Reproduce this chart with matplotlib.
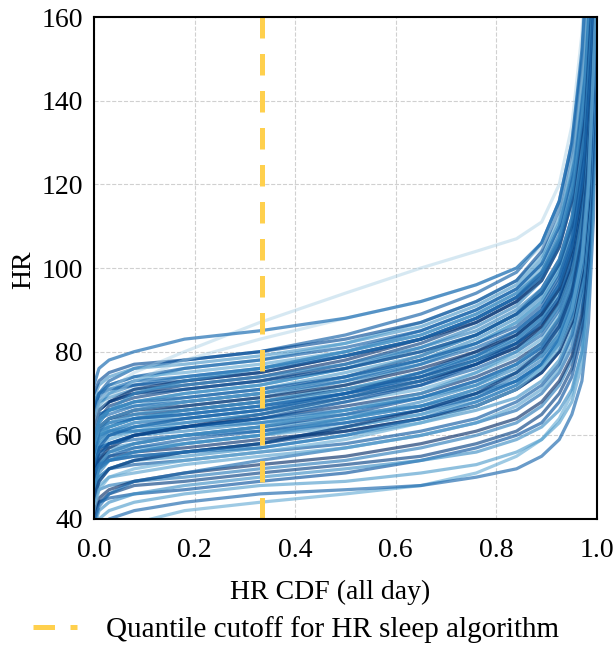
import numpy as np
import matplotlib.pyplot as plt
from matplotlib import cm

plt.rcParams['font.family'] = ['Liberation Serif', 'DejaVu Serif']

cdf_levels = [0, 0.01, 0.03, 0.08, 0.18, 0.33, 0.5, 0.65, 0.76, 0.84, 0.89,
              0.925, 0.95, 0.97, 0.983, 0.993, 1.0]

# low-HR subjects
hr_low = [
    [30, 33, 36, 39, 42, 44, 46, 48, 51, 55, 59, 64, 70, 80, 95, 120, 170],
    [36, 38, 40, 42, 44, 46, 47, 48, 50, 52, 55, 59, 65, 73, 87, 112, 165],
    [37, 40, 42, 44, 46, 48, 49, 51, 53, 56, 59, 63, 68, 77, 92, 118, 168],
    [42, 44, 45, 46, 47, 49, 51, 54, 57, 60, 63, 68, 74, 84, 100, 126, 170],
    [38, 42, 44, 46, 48, 50, 52, 54, 56, 59, 62, 66, 71, 80, 95, 122, 172],
    [40, 44, 46, 48, 49, 51, 53, 55, 58, 61, 65, 70, 76, 86, 102, 130, 175],
    [44, 47, 48, 49, 50, 52, 54, 57, 60, 63, 67, 72, 78, 88, 104, 132, 178],
    [41, 45, 47, 49, 51, 53, 55, 58, 61, 64, 68, 73, 79, 89, 106, 134, 176],
    [39, 43, 46, 49, 51, 54, 57, 60, 63, 66, 70, 75, 81, 92, 108, 136, 180],
    [45, 48, 50, 51, 53, 55, 57, 60, 63, 67, 71, 76, 83, 94, 110, 138, 178],
    [47, 50, 52, 53, 54, 56, 58, 61, 64, 68, 72, 77, 84, 95, 112, 140, 182],
]

# the dense middle of the band
hr_mid = [
    [46, 50, 52, 54, 55, 57, 60, 63, 66, 69, 73, 78, 85, 96, 113, 142, 180],
    [49, 52, 54, 55, 56, 58, 61, 64, 67, 71, 75, 80, 87, 98, 115, 144, 184],
    [44, 49, 52, 54, 56, 58, 62, 65, 69, 73, 77, 83, 90, 102, 120, 148, 186],
    [50, 53, 55, 56, 57, 59, 61, 64, 67, 71, 75, 80, 87, 99, 116, 145, 182],
    [48, 52, 54, 56, 58, 60, 63, 66, 70, 73, 77, 82, 89, 101, 118, 147, 186],
    [52, 55, 56, 57, 58, 60, 62, 65, 68, 72, 76, 81, 88, 100, 118, 146, 184],
    [49, 53, 55, 57, 59, 61, 64, 67, 71, 75, 79, 84, 92, 104, 122, 150, 188],
    [53, 56, 57, 58, 60, 62, 64, 67, 71, 75, 79, 84, 91, 103, 121, 150, 186],
    [50, 54, 56, 58, 60, 62, 65, 69, 73, 77, 81, 87, 95, 107, 126, 154, 190],
    [54, 57, 58, 60, 61, 63, 66, 69, 72, 76, 80, 85, 93, 105, 124, 152, 188],
    [52, 56, 58, 60, 62, 64, 67, 70, 74, 78, 82, 88, 96, 108, 128, 156, 192],
    [56, 58, 60, 61, 62, 64, 66, 69, 73, 77, 81, 86, 94, 106, 126, 155, 190],
    [53, 57, 59, 61, 63, 65, 68, 71, 75, 79, 83, 89, 97, 110, 130, 158, 194],
    [57, 60, 61, 63, 64, 66, 69, 72, 76, 80, 84, 90, 98, 111, 131, 160, 192],
    [54, 58, 60, 62, 64, 66, 70, 74, 78, 82, 87, 93, 101, 114, 134, 162, 196],
    [58, 61, 62, 64, 65, 67, 70, 73, 77, 81, 85, 91, 99, 112, 132, 160, 194],
    [56, 60, 62, 64, 66, 68, 71, 75, 79, 83, 88, 94, 102, 116, 136, 164, 198],
    [60, 62, 64, 65, 66, 68, 71, 74, 78, 82, 86, 92, 100, 113, 133, 162, 196],
    [58, 60, 61, 61, 62, 63, 65, 67, 70, 74, 78, 83, 90, 102, 120, 148, 186],
    [50, 54, 57, 60, 62, 65, 69, 73, 77, 81, 86, 92, 100, 113, 133, 161, 196],
    [55, 57, 58, 59, 60, 61, 63, 66, 69, 73, 77, 82, 89, 101, 119, 148, 186],
    [55, 59, 61, 63, 65, 67, 71, 75, 79, 84, 89, 95, 104, 118, 138, 166, 198],
]

# steeper subjects through the middle and upper band
hr_steep = [
    [52, 57, 60, 62, 64, 66, 70, 75, 80, 85, 90, 97, 106, 120, 140, 168, 200],
    [55, 60, 62, 64, 66, 68, 72, 77, 82, 87, 92, 99, 108, 122, 144, 172, 202],
    [56, 61, 64, 66, 68, 70, 74, 79, 84, 89, 95, 102, 112, 128, 150, 178, 204],
    [58, 63, 66, 68, 70, 72, 76, 81, 86, 91, 97, 105, 116, 132, 156, 184, 206],
    [62, 66, 68, 70, 72, 74, 78, 83, 88, 93, 99, 107, 118, 136, 160, 188, 208],
    [64, 68, 70, 72, 74, 76, 80, 85, 90, 95, 101, 110, 122, 140, 166, 192, 210],
    [62, 67, 70, 73, 76, 78, 82, 87, 92, 97, 103, 112, 125, 145, 170, 196, 212],
    [66, 70, 73, 76, 78, 80, 84, 89, 94, 99, 106, 116, 130, 150, 176, 200, 214],
    [48, 53, 56, 58, 60, 62, 66, 70, 75, 80, 85, 91, 99, 112, 132, 160, 194],
    [50, 55, 58, 60, 62, 64, 68, 72, 77, 82, 87, 93, 102, 116, 136, 164, 198],
    [47, 51, 54, 56, 58, 60, 64, 68, 72, 77, 82, 88, 96, 109, 128, 156, 190],
    [45, 49, 52, 54, 56, 58, 62, 66, 70, 75, 80, 86, 94, 107, 126, 154, 188],
    [51, 53, 54, 55, 56, 57, 60, 64, 68, 72, 77, 83, 91, 104, 122, 150, 186],
    [42, 47, 50, 52, 54, 56, 59, 63, 67, 71, 76, 82, 90, 102, 120, 148, 184],
    [60, 62, 63, 64, 65, 67, 70, 74, 79, 84, 89, 96, 105, 119, 140, 168, 200],
    [63, 65, 66, 67, 69, 71, 75, 79, 84, 89, 94, 101, 111, 126, 148, 176, 204],
    [68, 70, 71, 72, 73, 75, 79, 83, 88, 93, 99, 108, 120, 138, 162, 190, 208],
    [57, 61, 63, 65, 67, 69, 73, 78, 83, 88, 93, 100, 110, 125, 148, 176, 204],
    [59, 64, 67, 69, 71, 73, 77, 82, 87, 92, 98, 106, 117, 134, 158, 186, 206],
    [56, 59, 61, 62, 63, 65, 69, 73, 78, 83, 88, 95, 104, 118, 138, 166, 198],
]

# upper part of the band
hr_high = [
    [59, 62, 64, 66, 67, 69, 72, 76, 80, 84, 89, 95, 104, 118, 140, 168, 200],
    [61, 64, 65, 67, 68, 70, 73, 77, 81, 85, 90, 96, 105, 120, 142, 170, 198],
    [58, 62, 64, 66, 68, 70, 74, 78, 82, 87, 92, 99, 108, 124, 146, 174, 202],
    [62, 65, 66, 68, 69, 71, 74, 78, 82, 86, 91, 98, 107, 122, 144, 172, 200],
    [60, 64, 66, 68, 70, 72, 76, 80, 84, 89, 94, 101, 111, 127, 150, 178, 204],
    [63, 66, 68, 70, 71, 73, 76, 80, 84, 89, 94, 101, 110, 126, 148, 176, 202],
    [65, 68, 69, 71, 72, 74, 77, 81, 85, 90, 95, 102, 112, 128, 152, 180, 206],
    [62, 66, 68, 71, 73, 75, 79, 83, 87, 92, 97, 105, 116, 133, 158, 186, 208],
    [66, 69, 71, 73, 74, 76, 79, 83, 88, 93, 98, 106, 117, 135, 160, 188, 206],
    [68, 70, 72, 74, 75, 77, 80, 84, 89, 94, 100, 108, 120, 138, 164, 190, 210],
    [66, 70, 72, 74, 76, 78, 81, 85, 90, 95, 101, 110, 122, 142, 168, 194, 210],
    [69, 72, 74, 76, 77, 79, 82, 86, 91, 96, 102, 111, 124, 145, 170, 196, 212],
    [70, 73, 75, 77, 78, 80, 83, 87, 92, 97, 104, 114, 128, 150, 176, 200, 214],
    [58, 63, 66, 70, 73, 76, 80, 84, 89, 94, 99, 107, 118, 136, 162, 190, 208],
]

# faint high curves and the top outlier
hr_top = [
    [64, 68, 71, 75, 80, 87, 94, 100, 104, 107, 111, 120, 134, 156, 182, 204, 216],
    [62, 66, 69, 73, 78, 83, 88, 92, 96, 100, 105, 114, 126, 146, 172, 198, 212],
    [72, 76, 78, 80, 83, 85, 88, 92, 96, 100, 106, 116, 130, 152, 178, 202, 216],
]

cutoff_quantile = 1 / 3
legend_label = 'Quantile cutoff for HR sleep algorithm'

fig = plt.figure(figsize=(6.13, 6.46), dpi=100)
ax = fig.add_axes([0.1533, 0.1966, 0.8206, 0.777])

k = 0
for group in [hr_low, hr_mid, hr_steep, hr_high]:
    for hr in group:
        shade = 0.5 + 0.5 * ((k * 13) % 23) / 22
        ax.plot(cdf_levels, hr, color=cm.Blues(shade), lw=2.3, alpha=0.65,
                solid_joinstyle='round', zorder=2)
        k += 1
for j, hr in enumerate(hr_top):
    light = j < 2
    ax.plot(cdf_levels, hr, color=cm.Blues(0.35 if light else 0.75),
            lw=2.3, alpha=0.45 if light else 0.7, solid_joinstyle='round', zorder=2)

cut_line, = ax.plot([cutoff_quantile, cutoff_quantile], [40, 160], color='#ffd04d',
                    lw=3.6, dashes=(4.3, 3.1), zorder=4, label=legend_label)

ax.set_xlim(0, 1)
ax.set_ylim(40, 160)
ax.set_xticks(np.arange(0, 1.01, 0.2))
ax.set_yticks(np.arange(40, 161, 20))
ax.grid(True, ls='--', color='#d0d0d0', lw=0.8)
ax.set_axisbelow(True)
ax.tick_params(length=0, labelsize=20)
ax.tick_params(axis='x', pad=14)
ax.tick_params(axis='y', pad=8)
for sp in ax.spines.values():
    sp.set_linewidth(1.5)
    sp.set_color('black')
    sp.set_zorder(5)

fig.text(24 / 613, 1 - 270 / 646, 'HR', rotation=90, ha='center', va='center', fontsize=20)
fig.text(330 / 613, 1 - 592 / 646, 'HR CDF (all day)', ha='center', va='center', fontsize=20)

fig.legend(handles=[cut_line], loc='center left', bbox_to_anchor=(33 / 613, 1 - 630 / 646),
           frameon=False, borderpad=0, borderaxespad=0, handlelength=1.5,
           handletextpad=1.0, fontsize=21)

fig.savefig('out.png', dpi=100)
